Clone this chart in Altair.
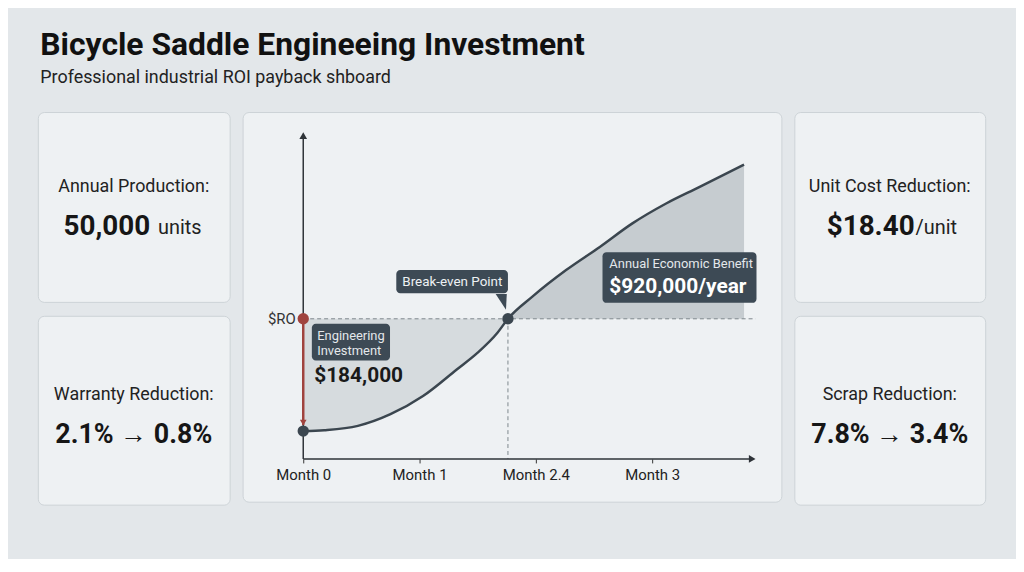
import json
import altair as alt
import pandas as pd

TITLE = "Bicycle Saddle Engineeing Investment"
SUBTITLE = "Professional industrial ROI payback shboard"

# ---- KPI cards ----
card_labels = ["Annual Production:", "Warranty Reduction:", "Unit Cost Reduction:", "Scrap Reduction:"]
card_values = ["50,000", "2.1% \u2192 0.8%", "$18.40", "7.8% \u2192 3.4%"]
card_units = ["units", "", "/unit", ""]

# ---- payback curve (x in month-position units, y in $k cumulative) ----
curve_t = [0.0, 0.18, 0.47, 0.75, 1.03, 1.32, 1.50, 1.67, 1.76, 1.97, 2.26, 2.55, 2.83, 3.12, 3.40, 3.79]
curve_v = [-184, -182.4, -175.4, -156.3, -126.5, -83, -55.4, -22.8, 0, 36.3, 79.8, 117.7, 156.3, 188.9, 215.4, 252.4]
BREAK_IDX = 8
INVESTMENT_K = -184

tick_pos = [0, 1, 2, 3]
tick_labels = ["Month 0", "Month 1", "Month 2.4", "Month 3"]

X_DOMAIN = [-61 / 117, 481 / 117]
Y_DOMAIN = [-184 / 0.6141, 208 / 0.6141]
AXIS_Y_BOTTOM = -229.6
AXIS_Y_TOP = 300
AXIS_X_END = 3.86

FONT = "Roboto"
DARK = "#3b464f"
BOX = "#3d4a55"
RED = "#a0433e"

# ---------------- cards ----------------
def card(i, w, h, label_y, value_y, split_x):
    df = pd.DataFrame({"label": [card_labels[i]], "value": [card_values[i]], "unit": [card_units[i]]})
    base = alt.Chart(df)
    lab = base.mark_text(font=FONT, fontSize=18, color="#222222", align="center", baseline="middle").encode(
        x=alt.value(w / 2), y=alt.value(label_y), text="label:N")
    if card_units[i]:
        val = base.mark_text(font=FONT, fontSize=28, fontWeight="bold", color="#161616", align="right",
                             baseline="middle").encode(x=alt.value(split_x), y=alt.value(value_y), text="value:N")
        gap = 8 if card_units[i][0] != "/" else 1
        unit = base.mark_text(font=FONT, fontSize=20, color="#222222", align="left", baseline="middle", dy=1).encode(
            x=alt.value(split_x + gap), y=alt.value(value_y), text="unit:N")
        layers = [lab, val, unit]
    else:
        val = base.mark_text(font=FONT, fontSize=27, fontWeight="bold", color="#161616", align="center",
                             baseline="middle").encode(x=alt.value(w / 2), y=alt.value(value_y), text="value:N")
        layers = [lab, val]
    return alt.layer(*layers).properties(width=w, height=h)


left_col = alt.vconcat(
    card(0, 193, 191, 75, 116, 113),
    card(1, 193, 190, 80, 120, 0),
    spacing=12,
)
right_col = alt.vconcat(
    card(2, 192, 191, 75, 116, 121),
    card(3, 192, 190, 80, 120, 0),
    spacing=12,
)

# ---------------- center chart ----------------
X = alt.X("t:Q", scale=alt.Scale(domain=X_DOMAIN, nice=False, zero=False),
          axis=alt.Axis(values=tick_pos, labelExpr=json.dumps(tick_labels) + "[datum.value]",
                        domain=False, grid=False, ticks=True, tickSize=4, tickColor="#333333",
                        labelFont=FONT, labelFontSize=15, labelColor="#222222", labelPadding=5,
                        offset=-43, title=None, labelFlush=False))
Y = alt.Y("v:Q", scale=alt.Scale(domain=Y_DOMAIN, nice=False, zero=False),
          axis=alt.Axis(values=[0], labelExpr="'$RO'", domain=False, grid=False, ticks=False,
                        labelFont=FONT, labelFontSize=15, labelColor="#333333", labelPadding=8,
                        offset=-61, title=None))

curve_df = pd.DataFrame({"t": curve_t, "v": curve_v, "base": 0.0})
left_df = curve_df.iloc[: BREAK_IDX + 1]
right_df = curve_df.iloc[BREAK_IDX:]
be_t = curve_t[BREAK_IDX]

area_left = alt.Chart(left_df).mark_area(interpolate="monotone", color="#d6dbde").encode(
    x=X, y=Y, y2=alt.Y2("base:Q"))
area_right = alt.Chart(right_df).mark_area(interpolate="monotone", color="#c6ccd0").encode(
    x=X, y=Y, y2=alt.Y2("base:Q"))

dash_df = pd.DataFrame({"t": [0, be_t], "t2": [AXIS_X_END + 0.03, be_t], "v": [0, 0], "v2": [0, AXIS_Y_BOTTOM]})
dashes = alt.Chart(dash_df).mark_rule(color="#7f878d", strokeDash=[4, 3], strokeWidth=1).encode(
    x=X, x2="t2:Q", y=Y, y2="v2:Q")

axes_df = pd.DataFrame({"t": [0, 0], "t2": [0, AXIS_X_END], "v": [AXIS_Y_BOTTOM, AXIS_Y_BOTTOM],
                        "v2": [AXIS_Y_TOP, AXIS_Y_BOTTOM]})
axes = alt.Chart(axes_df).mark_rule(color="#2e3338", strokeWidth=1.5).encode(x=X, x2="t2:Q", y=Y, y2="v2:Q")

heads_df = pd.DataFrame({"t": [0, AXIS_X_END], "v": [AXIS_Y_TOP, AXIS_Y_BOTTOM],
                         "shape": ["triangle-up", "triangle-right"]})
heads = alt.Chart(heads_df).mark_point(filled=True, size=60, color="#2e3338", opacity=1).encode(
    x=X, y=Y, shape=alt.Shape("shape:N", scale=None, legend=None))

line = alt.Chart(curve_df).mark_line(interpolate="monotone", color=DARK, strokeWidth=2.5).encode(x=X, y=Y)

red_df = pd.DataFrame({"t": [0], "v": [0], "v2": [INVESTMENT_K + 10]})
red_line = alt.Chart(red_df).mark_rule(color=RED, strokeWidth=2.5).encode(x=X, y=Y, y2="v2:Q")
red_head = alt.Chart(pd.DataFrame({"t": [0], "v": [INVESTMENT_K + 14]})).mark_point(
    shape="triangle-down", filled=True, size=45, color=RED, opacity=1).encode(x=X, y=Y)
red_dot = alt.Chart(pd.DataFrame({"t": [0], "v": [0]})).mark_point(
    filled=True, size=130, color=RED, opacity=1).encode(x=X, y=Y)

dots_df = pd.DataFrame({"t": [0, be_t], "v": [INVESTMENT_K, 0]})
dots = alt.Chart(dots_df).mark_point(filled=True, size=130, color=DARK, opacity=1).encode(x=X, y=Y)

# annotation boxes
box_df = pd.DataFrame({
    "t": [0.80, 0.074, 2.573],
    "t2": [1.76, 0.746, 3.897],
    "v": [80, -8.1, 109.1],
    "v2": [42, -68.4, 26.1],
})
boxes = alt.Chart(box_df).mark_rect(color=BOX, cornerRadius=4).encode(x=X, x2="t2:Q", y=Y, y2="v2:Q")
pointer = alt.Chart(pd.DataFrame({"t": [1.709], "v": [27.7]})).mark_point(
    shape="M-0.8,-1L0.6,-1L0.5,1Z", filled=True, size=256, color=BOX, opacity=1).encode(x=X, y=Y)

small_df = pd.DataFrame({"t": [2.632, 0.12, 0.12], "v": [89.6, -27.7, -52.1],
                         "text": ["Annual Economic Benefit", "Engineering", "Investment"]})
small_txt = alt.Chart(small_df).mark_text(font=FONT, fontSize=13, color="#e4e8eb", align="left",
                                          baseline="middle").encode(x=X, y=Y, text="text:N")
be_txt = alt.Chart(pd.DataFrame({"t": [1.282], "v": [61], "text": ["Break-even Point"]})).mark_text(
    font=FONT, fontSize=13.5, color="#eef1f3", align="center", baseline="middle").encode(x=X, y=Y, text="text:N")
big_white = alt.Chart(pd.DataFrame({"t": [2.632], "v": [52.1], "text": ["$920,000/year"]})).mark_text(
    font=FONT, fontSize=21, fontWeight="bold", color="#ffffff", align="left", baseline="middle").encode(
    x=X, y=Y, text="text:N")
big_dark = alt.Chart(pd.DataFrame({"t": [0.094], "v": [-94.4], "text": ["$184,000"]})).mark_text(
    font=FONT, fontSize=21, fontWeight="bold", color="#1a1a1a", align="left", baseline="middle").encode(
    x=X, y=Y, text="text:N")

center = alt.layer(
    area_left, area_right, dashes, axes, heads, line, red_line, red_head, red_dot, dots,
    boxes, pointer, small_txt, be_txt, big_white, big_dark,
).properties(width=542, height=392)

chart = alt.hconcat(left_col, center, right_col, spacing=11).properties(
    title=alt.TitleParams(
        text=TITLE, subtitle=SUBTITLE, anchor="start", dx=3,
        font=FONT, fontSize=32, fontWeight="bold", color="#111111",
        subtitleFont=FONT, subtitleFontSize=18, subtitleColor="#222222", subtitlePadding=7,
        offset=24,
    ),
    padding={"left": 29, "top": 19, "right": 30, "bottom": 52},
    background="#e3e7ea",
).configure_view(
    fill="#eef1f3", stroke="#cdd3d7", strokeWidth=1, cornerRadius=6
)

chart.save("out.html", embed_options={"renderer": "svg", "actions": False})
